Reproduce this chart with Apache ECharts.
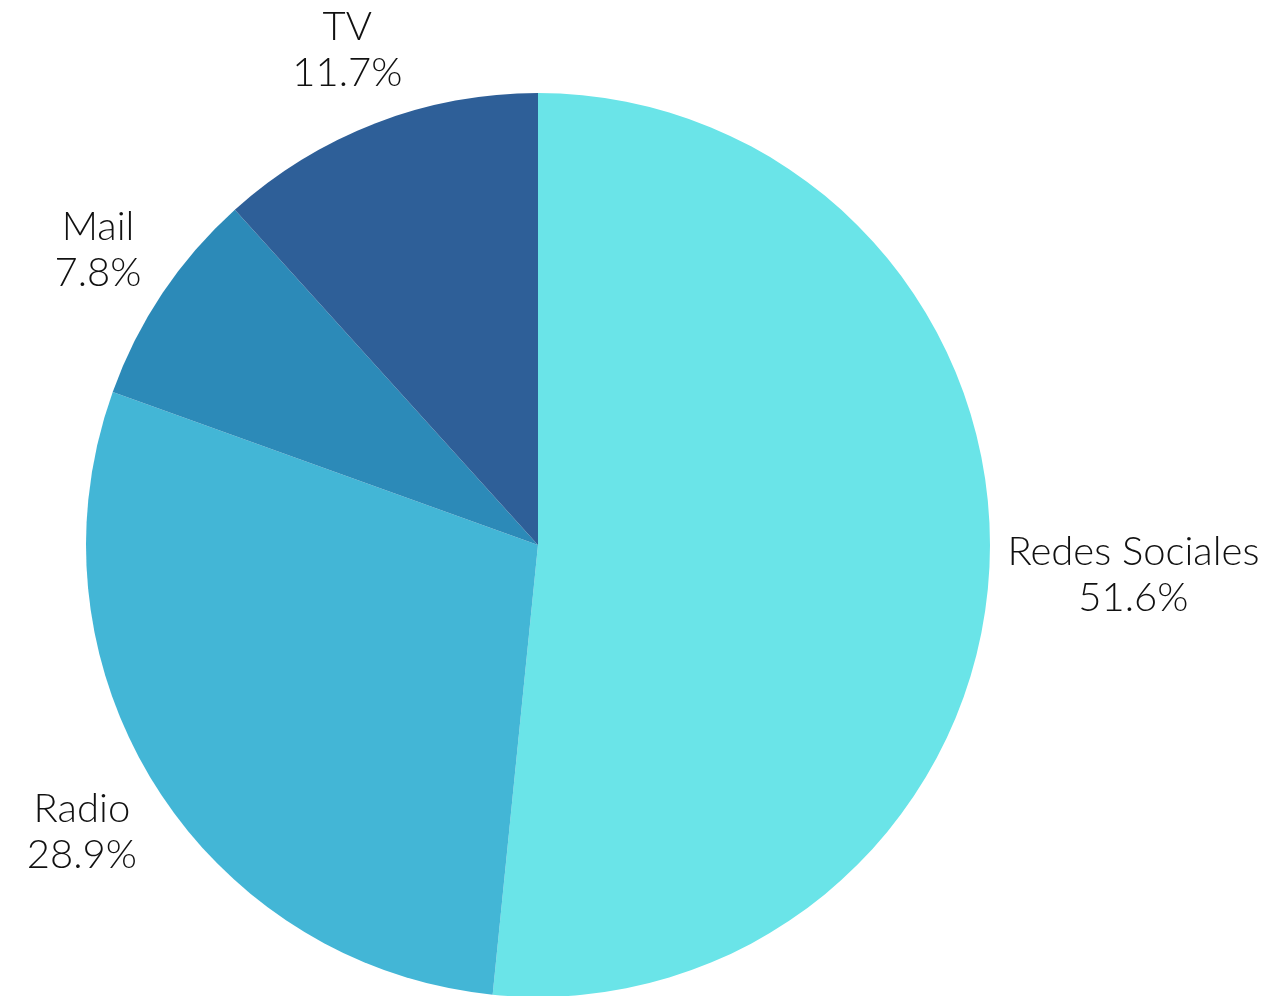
<!DOCTYPE html>
<html>
<head>
<meta charset="utf-8">
<style>
  html, body { margin: 0; padding: 0; background: #ffffff; }
  #chart { width: 1280px; height: 996px; }
</style>
<script src="https://cdn.jsdelivr.net/npm/echarts@6/dist/echarts.min.js"></script>
</head>
<body>
<div id="chart"></div>
<script>
// Channel shares (percent)
const categories = ['Redes Sociales', 'Radio', 'Mail', 'TV'];
const shares = [51.6, 28.9, 7.8, 11.7];
const colors = ['#6ae4e8', '#43b6d6', '#2c8ab8', '#2e5f98'];

const CX = 538, CY = 545, R = 452, GAP = 16;
const total = shares.reduce((a, b) => a + b, 0);

// Mid-angle of each slice, measured clockwise from 12 o'clock
const midAngles = [];
let acc = 0;
shares.forEach(v => {
  midAngles.push((acc + v / 2) / total * 2 * Math.PI);
  acc += v;
});

const chart = echarts.init(document.getElementById('chart'));
chart.setOption({
  backgroundColor: '#ffffff',
  animation: false,
  series: [{
    type: 'pie',
    center: [CX, CY],
    radius: R,
    startAngle: 90,
    clockwise: true,
    avoidLabelOverlap: false,
    data: categories.map((name, i) => ({
      name,
      value: shares[i],
      itemStyle: { color: colors[i] }
    })),
    label: {
      show: true,
      position: 'outside',
      formatter: p => p.name + '\n' + p.value.toFixed(1) + '%',
      fontFamily: 'Lato',
      fontWeight: 300,
      fontSize: 40,
      lineHeight: 46,
      color: '#111111',
      align: 'center',
      overflow: 'none'
    },
    labelLine: { show: false },
    labelLayout: function (params) {
      // push each label box radially until it clears the rim
      const a = midAngles[params.dataIndex];
      const ux = Math.sin(a), uy = -Math.cos(a);
      const w = params.labelRect.width, h = params.labelRect.height;
      const d = R + GAP + Math.abs(ux) * w / 2 + Math.abs(uy) * h / 2;
      return {
        x: CX + ux * d,
        y: CY + uy * d,
        align: 'center',
        verticalAlign: 'middle'
      };
    }
  }]
});
</script>
</body>
</html>
